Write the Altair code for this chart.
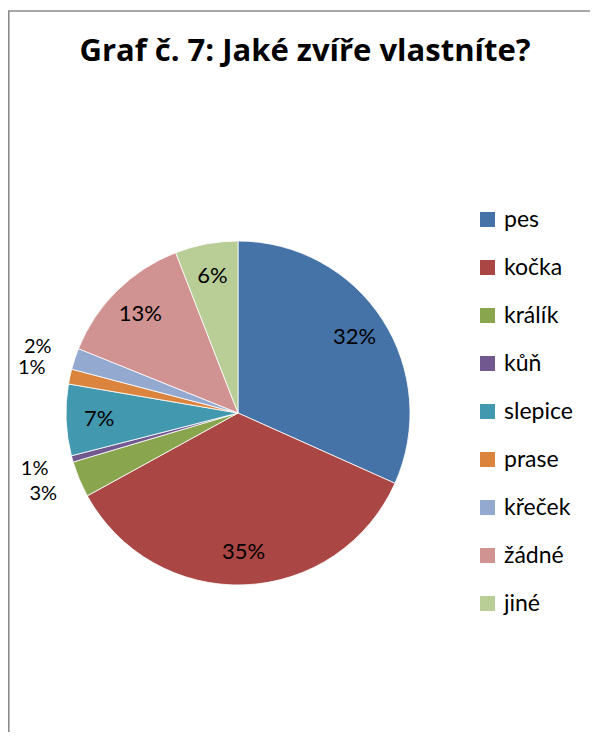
import altair as alt
import pandas as pd

categories = ["pes", "kočka", "králík", "kůň", "slepice", "prase", "křeček", "žádné", "jiné"]
values = [31.7, 35.3, 3.4, 0.6, 6.7, 1.4, 2.0, 13.0, 5.9]
colors = ["#4572A7", "#AA4643", "#89A54E", "#71588F", "#4198AF", "#DB843D", "#93A9CF", "#D19392", "#B9CD96"]

df = pd.DataFrame({"kategorie": categories, "hodnota": values, "poradi": list(range(len(categories)))})

FONT = "Lato"

color = alt.Color(
    "kategorie:N",
    scale=alt.Scale(domain=categories, range=colors),
    sort=categories,
    legend=alt.Legend(
        title=None, orient="none", legendX=468, legendY=100,
        symbolType="square", symbolSize=225, symbolStrokeWidth=0,
        labelFont=FONT, labelFontSize=23, labelColor="#000000",
        labelOffset=5, rowPadding=24,
    ),
)

base = alt.Chart(df)

pie = base.mark_arc(outerRadius=172, stroke="#ffffff", strokeWidth=0.8).encode(
    theta=alt.Theta("hodnota:Q", stack=True),
    color=color,
    order=alt.Order("poradi:Q"),
)

lab_base = base.transform_joinaggregate(
    celkem="sum(hodnota)"
).transform_window(
    konec="sum(hodnota)", sort=[alt.SortField("poradi")], frame=[None, 0]
).transform_calculate(
    stred="datum.konec - datum.hodnota / 2",
    popis="round(datum.hodnota / datum.celkem * 100) + '%'",
    venku="datum.hodnota / datum.celkem * 100 < 4 ? 1 : 0",
)

labels_in = lab_base.transform_filter("datum.venku == 0").mark_text(
    font=FONT, fontSize=22, color="#000000", radius=139
).encode(
    theta=alt.Theta("stred:Q", stack=False),
    text="popis:N",
)

labels_out = lab_base.transform_filter("datum.venku == 1").mark_text(
    font=FONT, fontSize=20, color="#000000", radius=211
).encode(
    theta=alt.Theta("stred:Q", stack=False),
    text="popis:N",
)

frame = alt.Chart(alt.Data(values=[{"a": 1}]))
top_line = frame.mark_rule(color="#8a8a8a", strokeWidth=1.6).encode(
    x=alt.value(0), x2=alt.value(582), y=alt.value(-97)
)
left_line = frame.mark_rule(color="#8a8a8a", strokeWidth=1.6).encode(
    x=alt.value(0.8), y=alt.value(-97), y2=alt.value(624)
)

chart = alt.layer(pie, labels_in, labels_out, top_line, left_line).properties(
    width=460,
    height=610,
    padding={"left": 0, "top": 100, "right": 122, "bottom": 14},
    autosize=alt.AutoSizeParams(type="none"),
    background="#ffffff",
    title=alt.TitleParams(
        "Graf č. 7: Jaké zvíře vlastníte?",
        font="Open Sans", fontSize=31, fontWeight="bold", color="#000000",
        anchor="middle", dx=67, offset=0, dy=58,
    ),
).configure_view(strokeWidth=0, stroke="transparent")

chart.save("out.html", embed_options={"renderer": "svg", "actions": False})
